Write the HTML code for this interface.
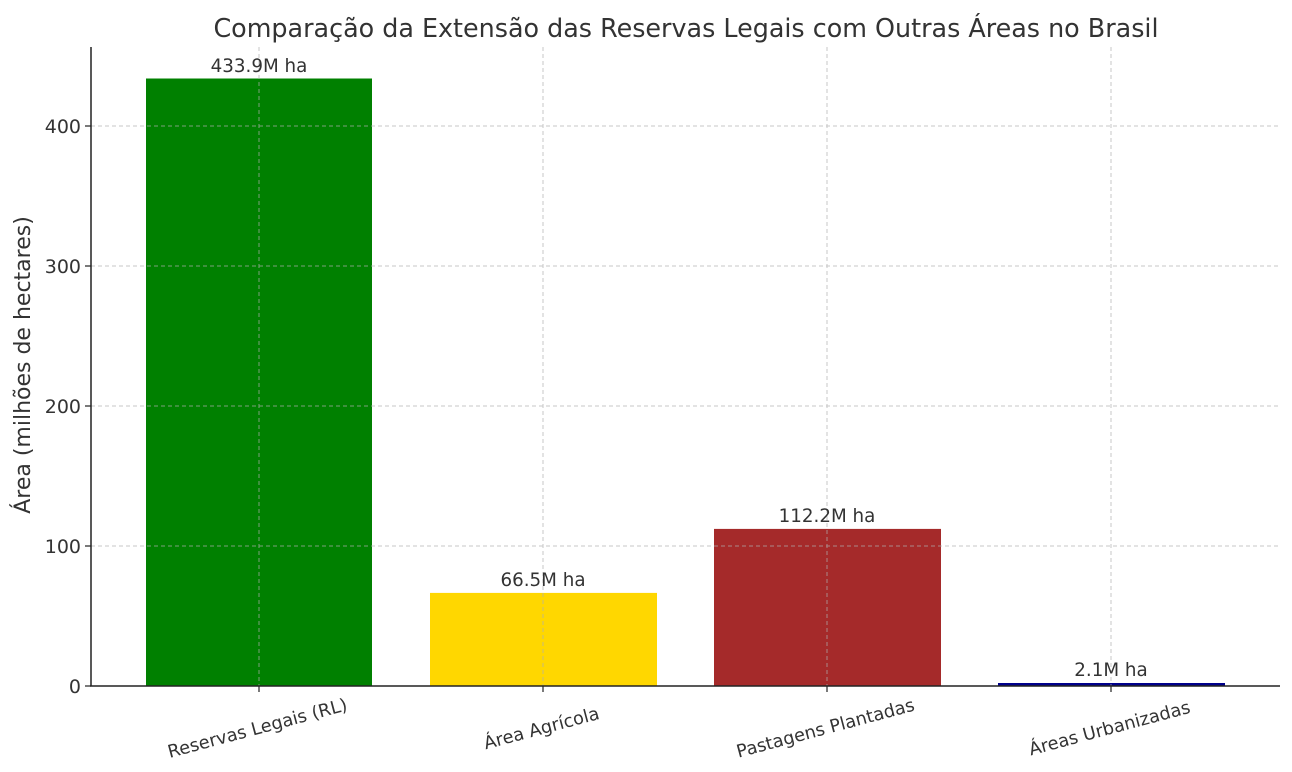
<!DOCTYPE html>
<html><head><meta charset="utf-8"><style>body{margin:0;background:#fff}svg{display:block}</style></head>
<body>
<svg width="1292" height="772" xmlns="http://www.w3.org/2000/svg" font-family="DejaVu Sans, Liberation Sans, sans-serif" fill="#333">
<rect width="1292" height="772" fill="#fff"/>
<text x="686" y="37" font-size="25.4" text-anchor="middle">Comparação da Extensão das Reservas Legais com Outras Áreas no Brasil</text>
<rect x="146" y="78.5" width="226" height="607.5" fill="#008000"/>
<rect x="430" y="592.9" width="227" height="93.1" fill="#ffd700"/>
<rect x="714" y="528.9" width="227" height="157.1" fill="#a52a2a"/>
<rect x="998" y="683" width="227" height="3" fill="#00008b"/>
<g stroke="#b0b0b0" stroke-width="1" stroke-dasharray="4,3" opacity="0.7">
<line x1="91" x2="1280" y1="546" y2="546"/>
<line x1="91" x2="1280" y1="406" y2="406"/>
<line x1="91" x2="1280" y1="266" y2="266"/>
<line x1="91" x2="1280" y1="126" y2="126"/>
<line x1="259" x2="259" y1="47" y2="686"/>
<line x1="543" x2="543" y1="47" y2="686"/>
<line x1="827" x2="827" y1="47" y2="686"/>
<line x1="1111" x2="1111" y1="47" y2="686"/>
</g>
<line x1="91" y1="47" x2="91" y2="686.5" stroke="#222" stroke-width="1.5"/>
<line x1="90" y1="686" x2="1280" y2="686" stroke="#222" stroke-width="1.5"/>
<g stroke="#222" stroke-width="1.2">
<line x1="85" x2="91" y1="686" y2="686"/><line x1="85" x2="91" y1="546" y2="546"/><line x1="85" x2="91" y1="406" y2="406"/><line x1="85" x2="91" y1="266" y2="266"/><line x1="85" x2="91" y1="126" y2="126"/>
<line x1="259" x2="259" y1="686" y2="692"/><line x1="543" x2="543" y1="686" y2="692"/><line x1="827" x2="827" y1="686" y2="692"/><line x1="1111" x2="1111" y1="686" y2="692"/>
</g>
<g font-size="19" text-anchor="end">
<text x="81" y="693">0</text><text x="81" y="553">100</text><text x="81" y="413">200</text><text x="81" y="273">300</text><text x="81" y="133">400</text>
</g>
<text transform="translate(30,365) rotate(-90)" font-size="22" text-anchor="middle">Área (milhões de hectares)</text>
<g font-size="18.3" text-anchor="middle">
<text x="259" y="72">433.9M ha</text>
<text x="543" y="586">66.5M ha</text>
<text x="827" y="522">112.2M ha</text>
<text x="1111" y="676">2.1M ha</text>
</g>
<g font-size="17.8" text-anchor="middle">
<text transform="translate(259,734) rotate(-15)">Reservas Legais (RL)</text>
<text transform="translate(543,734) rotate(-15)">Área Agrícola</text>
<text transform="translate(827,734) rotate(-15)">Pastagens Plantadas</text>
<text transform="translate(1111,734) rotate(-15)">Áreas Urbanizadas</text>
</g>
</svg>
</body></html>
